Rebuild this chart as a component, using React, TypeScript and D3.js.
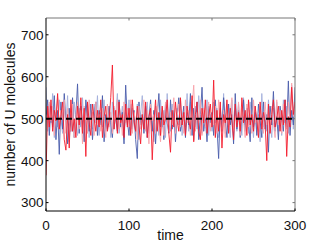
import React from "react";
import * as d3 from "d3";

const width = 326;
const height = 245;
const margin = { top: 18, right: 31, bottom: 34, left: 46 };

// sampled every 2 time units, t = 0..300
const step = 2;

const blueDark = [
  500, 545, 460, 530, 480, 555, 450, 520, 415, 540,
  475, 560, 495, 440, 525, 470, 550, 455, 510, 583,
  465, 530, 490, 445, 545, 505, 470, 535, 450, 500,
  540, 460, 520, 485, 555, 445, 510, 475, 530, 490,
  455, 525, 500, 470, 545, 480, 515, 440, 580, 495,
  460, 535, 475, 520, 450, 405, 540, 485, 510, 465,
  530, 455, 500, 545, 470, 520, 440, 505, 560, 480,
  515, 450, 535, 490, 465, 545, 475, 520, 445, 505,
  550, 470, 495, 530, 455, 515, 485, 560, 460, 525,
  480, 540, 450, 510, 575, 470, 500, 445, 530, 490,
  515, 460, 545, 480, 405, 525, 470, 550, 495, 455,
  535, 485, 510, 440, 560, 475, 520, 455, 500, 545,
  470, 525, 490, 445, 550, 480, 515, 460, 535, 495,
  455, 540, 475, 510, 420, 530, 485, 565, 470, 505,
  450, 530, 495, 470, 545, 480, 590, 460, 520, 485,
  575,
];

const blueLight = [
  575, 470, 535, 490, 560, 455, 515, 480, 545, 500,
  465, 530, 485, 555, 445, 510, 470, 540, 490, 460,
  525, 480, 550, 465, 505, 540, 455, 520, 475, 535,
  490, 555, 460, 515, 480, 545, 470, 500, 525, 455,
  540, 475, 510, 560, 465, 495, 530, 450, 515, 485,
  545, 460, 525, 490, 470, 535, 450, 510, 555, 475,
  500, 540, 465, 520, 485, 445, 530, 495, 460, 545,
  480, 520, 455, 560, 490, 470, 535, 505, 465, 525,
  485, 545, 460, 515, 480, 560, 470, 540, 495, 450,
  530, 475, 555, 500, 465, 520, 485, 545, 460, 510,
  470, 540, 490, 525, 455, 515, 480, 560, 465, 530,
  495, 455, 545, 480, 520, 470, 535, 490, 460, 550,
  485, 525, 465, 540, 500, 455, 530, 475, 510, 445,
  560, 480, 515, 470, 545, 490, 455, 525, 480, 540,
  470, 515, 460, 545, 490, 530, 465, 510, 580, 475,
  560,
];

const redBright = [
  365, 530, 480, 545, 470, 520, 495, 560, 475, 505,
  540, 450, 425, 510, 430, 545, 470, 500, 455, 530,
  485, 550, 465, 525, 410, 540, 490, 460, 535, 500,
  470, 520, 480, 545, 455, 505, 530, 470, 495, 550,
  628, 475, 520, 465, 540, 490, 510, 455, 535, 480,
  525, 460, 545, 495, 470, 530, 485, 440, 510, 475,
  540, 455, 505, 525, 402, 490, 545, 470, 515, 460,
  530, 485, 500, 545, 465, 420, 520, 480, 540, 495,
  470, 550, 485, 515, 460, 530, 495, 475, 555, 445,
  510, 540, 470, 450, 525, 490, 545, 465, 505, 535,
  480, 592, 455, 520, 470, 540, 430, 510, 490, 545,
  465, 525, 495, 450, 535, 480, 515, 470, 550, 490,
  520, 460, 545, 485, 510, 470, 530, 495, 455, 540,
  475, 515, 490, 400, 535, 465, 510, 545, 480, 500,
  530, 470, 520, 485, 545, 410, 505, 480, 575, 510,
  540,
];

const redLight = [
  510, 475, 540, 495, 530, 460, 515, 550, 480, 520,
  500, 545, 465, 525, 490, 470, 535, 455, 505, 540,
  475, 520, 440, 530, 495, 465, 545, 480, 515, 460,
  540, 485, 510, 470, 525, 495, 455, 535, 480, 515,
  465, 530, 500, 545, 475, 510, 460, 540, 490, 525,
  480, 545, 465, 515, 495, 450, 530, 475, 510, 545,
  470, 520, 440, 535, 495, 510, 465, 530, 485, 445,
  525, 460, 540, 500, 470, 515, 485, 550, 465, 505,
  535, 480, 510, 465, 545, 490, 520, 460, 530, 580,
  470, 515, 490, 545, 460, 525, 480, 505, 540, 470,
  510, 485, 530, 465, 545, 495, 470, 520, 455, 535,
  480, 515, 550, 470, 505, 490, 540, 460, 525, 495,
  455, 535, 480, 520, 465, 545, 490, 510, 470, 530,
  500, 465, 540, 485, 515, 470, 530, 490, 455, 545,
  485, 520, 465, 535, 500, 475, 540, 490, 585, 505,
  525,
];

const meanValue = 500;
const xTicks = [0, 100, 200, 300];
const yTicks = [300, 400, 500, 600, 700];

const series = [
  { values: blueLight, color: "#a3afdb" },
  { values: blueDark, color: "#4a5cab" },
  { values: redLight, color: "#f8a3aa" },
  { values: redBright, color: "#f41c2c" },
];

const font = "'Liberation Sans', Arial, Helvetica, sans-serif";

export default function App() {
  const x = d3
    .scaleLinear()
    .domain([0, 300])
    .range([margin.left, width - margin.right]);
  const y = d3
    .scaleLinear()
    .domain([280, 740])
    .range([height - margin.bottom, margin.top]);

  const line = d3
    .line<number>()
    .x((_, i) => x(i * step))
    .y((d) => y(d));

  const x0 = x.range()[0];
  const x1 = x.range()[1];
  const y0 = y.range()[0];
  const y1 = y.range()[1];
  const tick = 2.5;

  return (
    <svg
      width={width}
      height={height}
      style={{ position: "absolute", left: 0, top: 0, background: "#fff" }}
    >
      <defs>
        <clipPath id="plot">
          <rect x={x0} y={y1} width={x1 - x0} height={y0 - y1} />
        </clipPath>
      </defs>

      <g clipPath="url(#plot)">
        {series.map((s, i) => (
          <path
            key={i}
            d={line(s.values) || ""}
            fill="none"
            stroke={s.color}
            strokeWidth={0.9}
          />
        ))}
        <line
          x1={x0}
          x2={x1}
          y1={y(meanValue)}
          y2={y(meanValue)}
          stroke="#000"
          strokeWidth={2}
          strokeDasharray="6,4"
        />
      </g>

      {/* frame */}
      <line x1={x0} x2={x1} y1={y1} y2={y1} stroke="#777" strokeWidth={1} />
      <line x1={x1} x2={x1} y1={y1} y2={y0} stroke="#777" strokeWidth={1} />
      <line x1={x0} x2={x1} y1={y0} y2={y0} stroke="#000" strokeWidth={1} />
      <line x1={x0} x2={x0} y1={y1} y2={y0} stroke="#000" strokeWidth={1} />

      {xTicks.map((t) => (
        <g key={"x" + t}>
          <line x1={x(t)} x2={x(t)} y1={y0} y2={y0 - tick} stroke="#000" />
          <line x1={x(t)} x2={x(t)} y1={y1} y2={y1 + tick} stroke="#777" />
          <text
            x={x(t)}
            y={230}
            textAnchor="middle"
            fontFamily={font}
            fontSize={13.5}
            fill="#111"
          >
            {t}
          </text>
        </g>
      ))}

      {yTicks.map((t) => (
        <g key={"y" + t}>
          <line x1={x0} x2={x0 + tick} y1={y(t)} y2={y(t)} stroke="#000" />
          <line x1={x1} x2={x1 - tick} y1={y(t)} y2={y(t)} stroke="#777" />
          <text
            x={43.5}
            y={y(t)}
            dy="0.36em"
            textAnchor="end"
            fontFamily={font}
            fontSize={13.5}
            fill="#111"
          >
            {t}
          </text>
        </g>
      ))}

      <text
        x={(x0 + x1) / 2}
        y={240}
        textAnchor="middle"
        fontFamily={font}
        fontSize={14}
        fill="#111"
      >
        time
      </text>
      <text
        transform={`translate(15,${(y0 + y1) / 2}) rotate(-90)`}
        textAnchor="middle"
        fontFamily={font}
        fontSize={14}
        fill="#111"
      >
        number of U molecules
      </text>
    </svg>
  );
}
